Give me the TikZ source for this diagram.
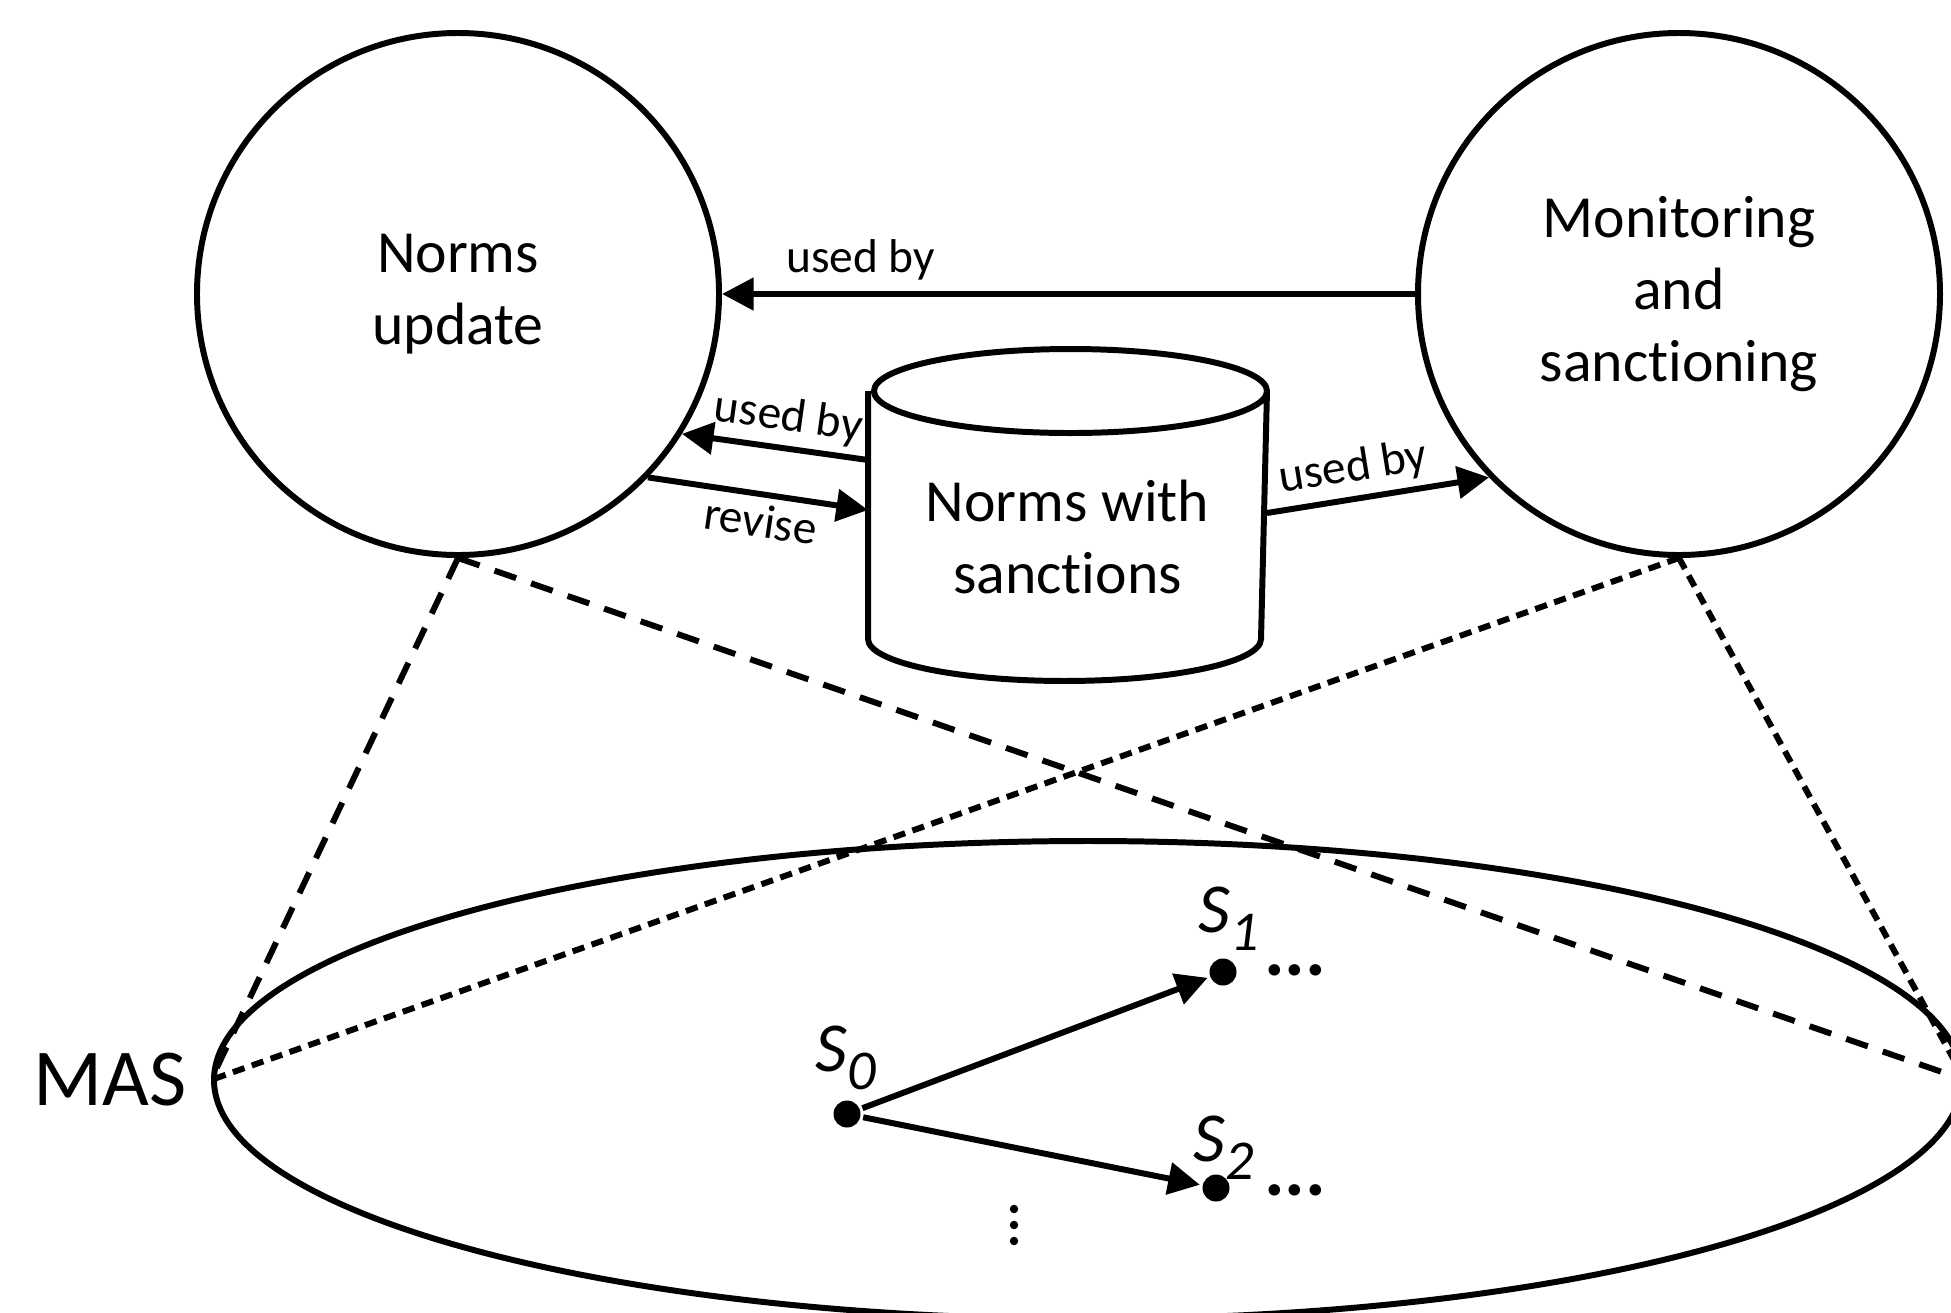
\documentclass[tikz,border=0pt]{standalone}
\usepackage{fontspec}
\setmainfont{Carlito}[RawFeature={-liga;-clig;-dlig;-calt}]
\usetikzlibrary{arrows.meta,shapes.geometric}

\begin{document}
\begin{tikzpicture}[
        line width=1.7pt,
        proc/.style={draw,circle,minimum size=5.22cm,align=center,font=\fontsize{17}{20.5}\selectfont},
        store/.style={minimum width=3.93cm,minimum height=3.26cm,inner sep=0pt},
        lbl/.style={font=\fontsize{13.5}{15}\selectfont,inner sep=2pt},
        arr/.style={-{Triangle[length=9pt,width=9pt]}},
        rarr/.style={{Triangle[length=9pt,width=9pt]}-},
        longdash/.style={dash pattern=on 6.5pt off 4.5pt},
        shortdash/.style={dash pattern=on 3.5pt off 2.2pt},
        state/.style={circle,fill,inner sep=0pt,minimum size=0.27cm},
        vdot/.style={circle,fill,inner sep=0pt,minimum size=0.085cm},
        slbl/.style={font=\fontsize{20}{21}\selectfont\itshape,inner sep=0pt}]

    \useasboundingbox (0,0) rectangle (19.51,13.12);

    % the two processes and the store
    \node[proc] (nu) at (4.58,10.18) {Norms\\update};
    \node[proc] (ms) at (16.79,10.18) {Monitoring\\and\\sanct\kern0pt ioning};
    \node[store] (db) at (10.675,7.97) {};
    \draw ([yshift=-4.2mm]db.north west) -- ([yshift=4.2mm]db.south west)
        arc[start angle=180,end angle=360,x radius=1.965cm,y radius=4.2mm]
        -- ([yshift=-4.2mm]db.north east)
        arc[start angle=0,end angle=360,x radius=1.965cm,y radius=4.2mm];
    \node[font=\fontsize{17}{20.5}\selectfont,align=center] (dbtxt) at ([yshift=-2.2mm]db.center) {Norms with\\sanct\kern0pt ions};

    \draw[arr] (ms.west) -- node[lbl,above=1pt,pos=0.8] (l1) {used by} (nu.east);
    \draw[rarr] (nu.-32) -- node[lbl,sloped,above,pos=0.55] (l2) {used by} ([yshift=5.5mm]db.west);
    \draw[arr] (nu.-44) -- node[lbl,sloped,below,pos=0.53] (l3) {revise} ([yshift=0.5mm]db.west);
    \draw[arr] ([yshift=0.2mm]db.east) -- node[lbl,sloped,above,pos=0.41] (l4) {used by} (ms.224);

    % the MAS
    \node[draw,ellipse,minimum width=17.48cm,minimum height=4.78cm,inner sep=0pt] (mas) at (10.88,2.32) {};
    \node[font=\fontsize{23}{25}\selectfont] (maslbl) at (1.10,2.32) {MAS};

    \draw[longdash] (nu.south) -- (mas.west);
    \draw[longdash] (nu.south) -- (mas.east);
    \draw[shortdash] (ms.south) -- (mas.west);
    \draw[shortdash] (ms.south) -- (mas.east);

    % states
    \node[state] (s0) at (8.47,1.98) {};
    \node[state] (s1) at (12.23,3.40) {};
    \node[state] (s2) at (12.16,1.24) {};
    \node[slbl] (s0l) at (8.46,2.54) {S\raisebox{-5pt}{\fontsize{16}{16}\selectfont 0}};
    \node[slbl] (s1l) at (12.29,3.93) {S\raisebox{-5pt}{\fontsize{16}{16}\selectfont 1}};
    \node[slbl] (s2l) at (12.24,1.64) {S\raisebox{-5pt}{\fontsize{16}{16}\selectfont 2}};
    \node[font=\fontsize{22}{23}\selectfont\bfseries] (d1) at (12.95,3.42) {...};
    \node[font=\fontsize{22}{23}\selectfont\bfseries] (d2) at (12.95,1.22) {...};
    \node[vdot] (v1) at (10.14,1.03) {};
    \node[vdot] (v2) at (10.14,0.87) {};
    \node[vdot] (v3) at (10.14,0.71) {};

    \draw[arr] (s0) -- (s1);
    \draw[arr] (s0) -- (s2);

\end{tikzpicture}
\end{document}
